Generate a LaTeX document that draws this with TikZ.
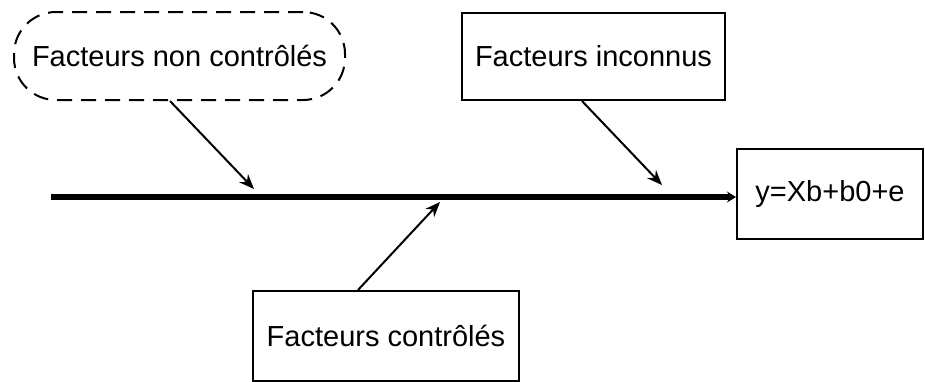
\documentclass[tikz,border=0pt]{standalone}
\usepackage{fontspec}
\setmainfont{Liberation Sans}
\usetikzlibrary{arrows.meta}
\begin{document}
\begin{tikzpicture}[x=1pt,y=-1pt,
  every node/.style={font=\fontsize{29}{34}\selectfont, inner sep=0pt},
  boxnode/.style={draw=black, line width=2pt, minimum width=#1},
  thinarrow/.style={line width=2pt, -{Stealth[length=15pt,width=12pt]}},
  spine/.style={line width=6.5pt, -{Stealth[length=9pt,width=11pt,inset=3pt]}}]
\useasboundingbox (0,0) rectangle (925,381);
\node[draw=black, line width=2pt, dash pattern=on 15pt off 9pt, rounded corners=42pt,
      minimum width=331pt, minimum height=88pt] (nc) at (179.5,56) {Facteurs non contrôlés};
\node[boxnode=263pt, minimum height=87pt] (inc) at (593.5,56.5) {Facteurs inconnus};
\node[boxnode=186pt, minimum height=90pt] (out) at (830,194) {y=Xb+b0+e};
\node[boxnode=266pt, minimum height=90pt] (ctrl) at (386,336) {Facteurs contrôlés};
\coordinate (start) at (51,197);
\coordinate (t1) at (254,189);
\coordinate (t2) at (662,185);
\coordinate (t3) at (440,202);
\draw[spine] (start) -- (out.west |- start);
\draw[thinarrow] ([xshift=-9.5pt]nc.south) -- (t1);
\draw[thinarrow] ([xshift=-11.5pt]inc.south) -- (t2);
\draw[thinarrow] ([xshift=-28pt]ctrl.north) -- (t3);
\end{tikzpicture}
\end{document}
